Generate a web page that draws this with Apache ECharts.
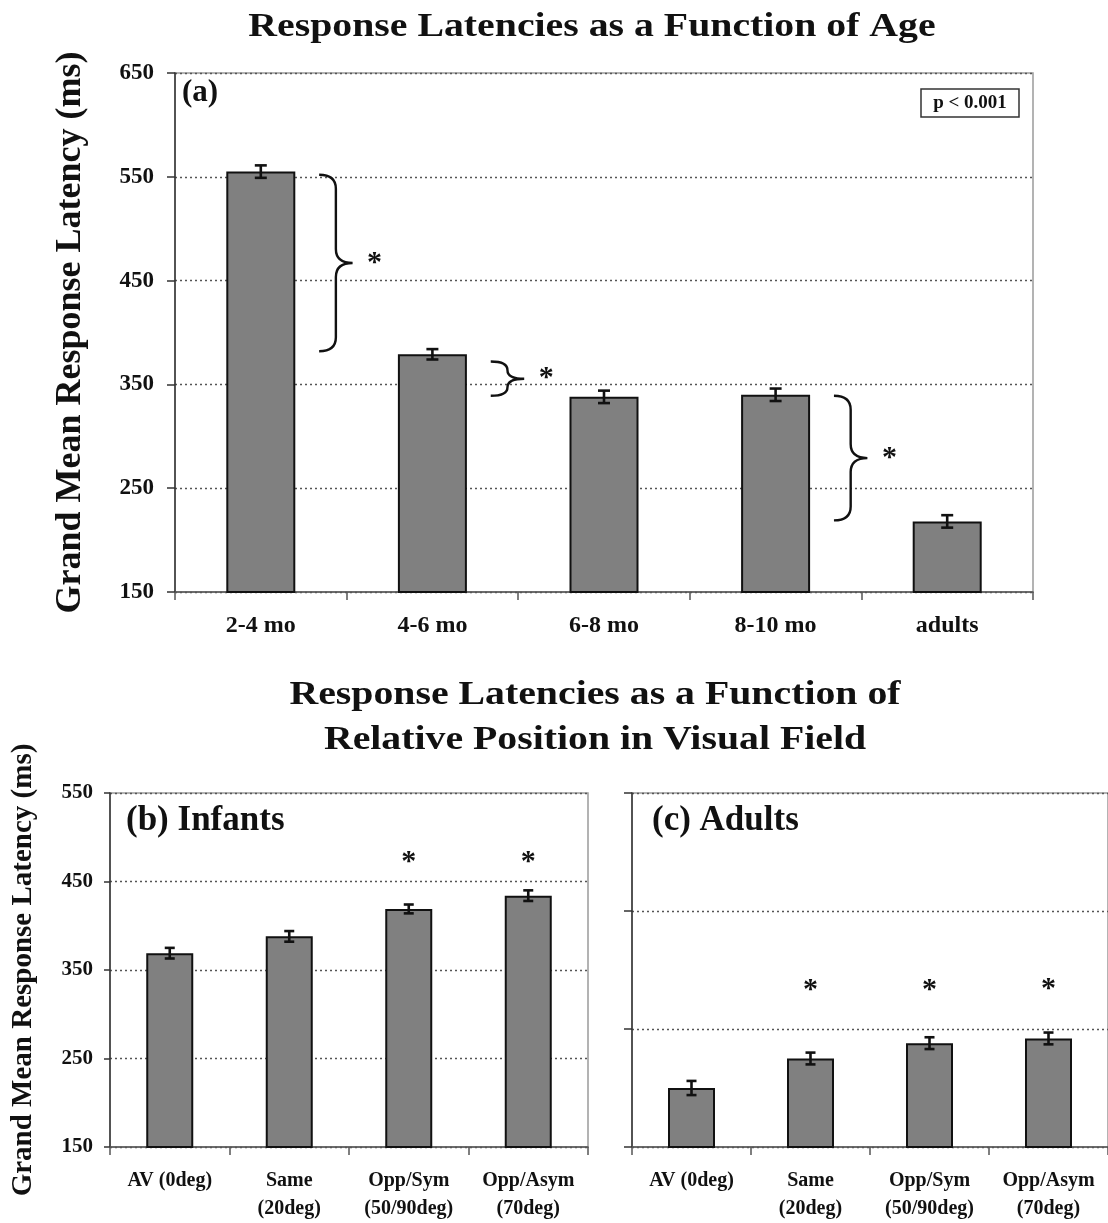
<!DOCTYPE html>
<html>
<head>
<meta charset="utf-8">
<script src="https://cdn.jsdelivr.net/npm/echarts@6/dist/echarts.min.js"></script>
<style>
html,body{margin:0;padding:0;background:#fff;}
#chart{width:1108px;height:1223px;}
</style>
</head>
<body>
<div id="chart"></div>
<script>
// ---------- DATA ----------
const ageCategories = ['2-4 mo', '4-6 mo', '6-8 mo', '8-10 mo', 'adults'];
const ageMeans = [555, 379, 338, 340, 218];
const ageErrors = [6, 5, 6, 6, 6];
const ageTicks = [150, 250, 350, 450, 550, 650];
// significance braces: [category index on the left, upper value, lower value]
const ageBraces = [[0, 552, 382], [1, 372, 339], [3, 339, 219]];

const posCategories = ['AV (0deg)', 'Same\n(20deg)', 'Opp/Sym\n(50/90deg)', 'Opp/Asym\n(70deg)'];
const infantMeans = [369, 388, 419, 434];
const infantErrors = [6, 6, 5, 6];
const infantStars = [null, null, 477, 477];
const infantTicks = [150, 250, 350, 450, 550];

const adultMeans = [200, 225, 238, 242];
const adultErrors = [6, 5, 5, 5];
const adultStars = [null, 287, 287, 288];
const adultTicks = [150, 250, 350, 450];

// ---------- STYLE HELPERS ----------
const SERIF = '"Liberation Serif", "Times New Roman", serif';
const INK = '#111';

function valueAxis(gridIndex, ticks, showLabels, labelSize, labelMargin, tickLen, name, nameSize, nameGap) {
  return {
    type: 'value', gridIndex: gridIndex,
    min: ticks[0], max: ticks[ticks.length - 1],
    interval: ticks[1] - ticks[0],
    axisLine: {show: true, lineStyle: {color: '#333', width: 1.5}},
    axisTick: {show: true, length: tickLen, lineStyle: {color: '#333', width: 1.5}},
    axisLabel: {show: showLabels, fontFamily: SERIF, fontWeight: 'bold', fontSize: labelSize, color: INK, margin: labelMargin},
    splitLine: {show: true, lineStyle: {color: '#555', width: 1.3, type: [2, 3]}},
    name: name, nameLocation: 'middle', nameGap: nameGap, nameRotate: 90,
    nameTextStyle: {fontFamily: SERIF, fontWeight: 'bold', fontSize: nameSize, color: INK}
  };
}

function categoryAxis(gridIndex, cats, labelSize, margin, lineHeight) {
  return {
    type: 'category', gridIndex: gridIndex, data: cats,
    axisLine: {show: true, lineStyle: {color: '#555', width: 1.5}},
    axisTick: {show: true, length: 8, lineStyle: {color: '#555', width: 1.5}},
    axisLabel: {fontFamily: SERIF, fontWeight: 'bold', fontSize: labelSize, color: INK, margin: margin, lineHeight: lineHeight, interval: 0},
    splitLine: {show: false}
  };
}

function barSeries(i, means, width) {
  return {
    type: 'bar', xAxisIndex: i, yAxisIndex: i, data: means, barWidth: width,
    itemStyle: {color: '#808080', borderColor: INK, borderWidth: 2},
    z: 3
  };
}

function errorSeries(i, means, errs, halfCap) {
  return {
    type: 'custom', xAxisIndex: i, yAxisIndex: i,
    data: means.map((m, k) => [k, m - errs[k], m + errs[k]]),
    encode: {x: 0, y: [1, 2]},
    z: 10,
    renderItem: function (params, api) {
      const lo = api.coord([api.value(0), api.value(1)]);
      const hi = api.coord([api.value(0), api.value(2)]);
      const st = {stroke: INK, lineWidth: 2.6};
      return {type: 'group', children: [
        {type: 'line', shape: {x1: lo[0], y1: lo[1], x2: hi[0], y2: hi[1]}, style: st},
        {type: 'line', shape: {x1: lo[0] - halfCap, y1: lo[1], x2: lo[0] + halfCap, y2: lo[1]}, style: st},
        {type: 'line', shape: {x1: hi[0] - halfCap, y1: hi[1], x2: hi[0] + halfCap, y2: hi[1]}, style: st}
      ]};
    }
  };
}

function starSeries(i, stars) {
  const d = [];
  stars.forEach((v, k) => { if (v != null) d.push([k, v]); });
  return {
    type: 'custom', xAxisIndex: i, yAxisIndex: i, data: d, encode: {x: 0, y: 1}, z: 10,
    renderItem: function (params, api) {
      const c = api.coord([api.value(0), api.value(1)]);
      return {type: 'text', x: c[0], y: c[1] + 5, style: {
        text: '*', font: 'bold 30px ' + SERIF, fill: INK, align: 'center', verticalAlign: 'middle'}};
    }
  };
}

function braceSeries(i, braces) {
  return {
    type: 'custom', xAxisIndex: i, yAxisIndex: i, data: braces, encode: {x: 0, y: [1, 2]}, z: 10,
    renderItem: function (params, api) {
      const cw = api.size([1, 0])[0];
      const top = api.coord([api.value(0), api.value(1)]);
      const bot = api.coord([api.value(0), api.value(2)]);
      const x0 = top[0] + cw * 0.34;
      const w = cw * 0.195;
      const xm = x0 + w / 2, xt = x0 + w;
      const y0 = top[1], y1 = bot[1], ym = (y0 + y1) / 2;
      const r = Math.min(14, (y1 - y0) / 4);
      const d = 'M' + x0 + ',' + y0 +
        ' Q' + xm + ',' + y0 + ' ' + xm + ',' + (y0 + r) +
        ' L' + xm + ',' + (ym - r) +
        ' Q' + xm + ',' + ym + ' ' + xt + ',' + ym +
        ' Q' + xm + ',' + ym + ' ' + xm + ',' + (ym + r) +
        ' L' + xm + ',' + (y1 - r) +
        ' Q' + xm + ',' + y1 + ' ' + x0 + ',' + y1;
      return {type: 'group', children: [
        {type: 'path', shape: {pathData: d}, style: {fill: null, stroke: INK, lineWidth: 2.4}},
        {type: 'text', x: xt + 22, y: ym, style: {text: '*', font: 'bold 30px ' + SERIF, fill: INK, align: 'center', verticalAlign: 'middle'}}
      ]};
    }
  };
}

const chart = echarts.init(document.getElementById('chart'), null, {renderer: 'canvas'});

const option = {
  animation: false,
  backgroundColor: '#fff',
  grid: [
    {left: 175, top: 73, width: 858, height: 519, show: true, borderColor: '#9a9a9a', borderWidth: 1.5, backgroundColor: 'transparent'},
    {left: 110, top: 793, width: 478, height: 356, show: true, borderColor: '#9a9a9a', borderWidth: 1.5, backgroundColor: 'transparent'},
    {left: 632, top: 793, width: 478, height: 356, show: true, borderColor: '#9a9a9a', borderWidth: 1.5, backgroundColor: 'transparent'}
  ],
  xAxis: [
    categoryAxis(0, ageCategories, 24, 21, 26),
    categoryAxis(1, posCategories, 20, 20, 28),
    categoryAxis(2, posCategories, 20, 20, 28)
  ],
  yAxis: [
    valueAxis(0, ageTicks, true, 23, 21, 8, 'Grand Mean Response Latency (ms)', 36, 86),
    valueAxis(1, infantTicks, true, 21, 17, 6, 'Grand Mean Response Latency (ms)', 29, 72),
    valueAxis(2, adultTicks, false, 21, 17, 8, '', 12, 10)
  ],
  graphic: [
    {type: 'text', x: 592, y: 27, scaleX: 1.17, style: {text: 'Response Latencies as a Function of Age', font: 'bold 34px ' + SERIF, fill: INK, align: 'center', verticalAlign: 'middle'}},
    {type: 'text', x: 595, y: 718, scaleX: 1.17, style: {text: 'Response Latencies as a Function of\nRelative Position in Visual Field', font: 'bold 34px ' + SERIF, lineHeight: 45, fill: INK, align: 'center', verticalAlign: 'middle'}},
    {type: 'text', x: 182, y: 93, style: {text: '(a)', font: 'bold 31px ' + SERIF, fill: INK, align: 'left', verticalAlign: 'middle'}},
    {type: 'text', x: 126, y: 821, style: {text: '(b) Infants', font: 'bold 35px ' + SERIF, fill: INK, align: 'left', verticalAlign: 'middle'}},
    {type: 'text', x: 652, y: 821, style: {text: '(c) Adults', font: 'bold 35px ' + SERIF, fill: INK, align: 'left', verticalAlign: 'middle'}},
    {type: 'rect', shape: {x: 921, y: 89, width: 98, height: 28}, style: {fill: '#fff', stroke: '#333', lineWidth: 1.5}, z: 20},
    {type: 'text', x: 970, y: 103, z: 21, style: {text: 'p < 0.001', font: 'bold 19px ' + SERIF, fill: INK, align: 'center', verticalAlign: 'middle'}}
  ],
  series: [
    barSeries(0, ageMeans, 69),
    errorSeries(0, ageMeans, ageErrors, 6),
    braceSeries(0, ageBraces),
    barSeries(1, infantMeans, 47),
    errorSeries(1, infantMeans, infantErrors, 5),
    starSeries(1, infantStars),
    barSeries(2, adultMeans, 47),
    errorSeries(2, adultMeans, adultErrors, 5),
    starSeries(2, adultStars)
  ]
};
chart.setOption(option);
</script>
</body>
</html>
